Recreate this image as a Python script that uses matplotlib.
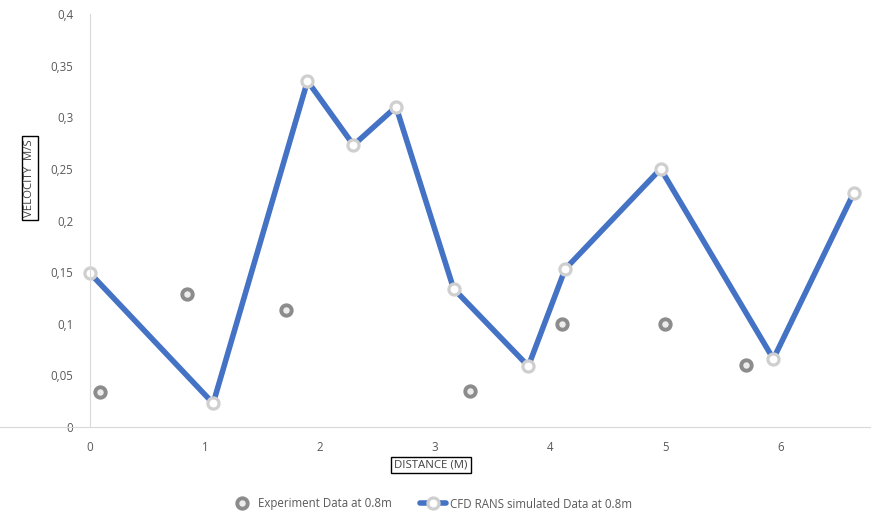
import matplotlib
matplotlib.use("Agg")
import matplotlib.pyplot as plt
from matplotlib.ticker import FuncFormatter

plt.rcParams['font.family'] = ['Open Sans', 'DejaVu Sans']

# experiment data
exp_x = [0.09, 0.84, 1.70, 3.30, 4.10, 5.00, 5.70]
exp_y = [0.034, 0.129, 0.113, 0.035, 0.100, 0.100, 0.060]

# CFD RANS simulated data
cfd_x = [0.0, 1.07, 1.89, 2.29, 2.66, 3.16, 3.81, 4.13, 4.96, 5.94, 6.64]
cfd_y = [0.149, 0.023, 0.335, 0.273, 0.310, 0.134, 0.059, 0.153, 0.250, 0.066, 0.227]

fig = plt.figure(figsize=(8.75, 5.14), dpi=100)
ax = fig.add_axes([0.0, 0.169, 870 / 875, 0.804])

ax.plot(exp_x, exp_y, linestyle='none', marker='o', markersize=7.5,
        markerfacecolor='#ececec', markeredgecolor='#8c8c8c', markeredgewidth=2.8,
        label='Experiment Data at 0.8m')
ax.plot(cfd_x, cfd_y, color='#4472C4', linewidth=4, marker='o', markersize=8,
        markerfacecolor='white', markeredgecolor='#cfcfcf', markeredgewidth=2.3,
        label='CFD RANS simulated Data at 0.8m', solid_capstyle='round')

ax.set_xlim(-0.783, 6.78)
ax.set_ylim(0, 0.4)
ax.set_xticks(range(0, 7))
ax.set_yticks([0, 0.05, 0.1, 0.15, 0.2, 0.25, 0.3, 0.35, 0.4])
ax.yaxis.set_major_formatter(FuncFormatter(lambda v, p: ('%g' % round(v, 2)).replace('.', ',')))

for s in ['top', 'right']:
    ax.spines[s].set_visible(False)
ax.spines['left'].set_position(('data', 0))
ax.spines['left'].set_color('#d9d9d9')
ax.spines['bottom'].set_color('#d9d9d9')
ax.tick_params(axis='both', colors='#595959', labelsize=8.3, length=0)
ax.tick_params(axis='y', pad=12)
ax.tick_params(axis='x', pad=10)
ax.patch.set_alpha(0)

box = dict(boxstyle='square,pad=0.25', facecolor='white', edgecolor='black', linewidth=1)
fig.text(30 / 875, 1 - 178 / 514, 'VELOCITY  M/S', rotation=90, ha='center', va='center',
         fontsize=8.2, color='#404040', bbox=box)
fig.text(431 / 875, 1 - 465 / 514, 'DISTANCE (M)', ha='center', va='center',
         fontsize=8.2, color='#404040', bbox=box)

fig.legend(loc='center', bbox_to_anchor=(430 / 875, 1 - 504 / 514), ncol=2, frameon=False,
           fontsize=8.3, labelcolor='#595959', handlelength=2.3, columnspacing=2.4,
           handletextpad=0.3)

fig.savefig('out.png', dpi=100)
